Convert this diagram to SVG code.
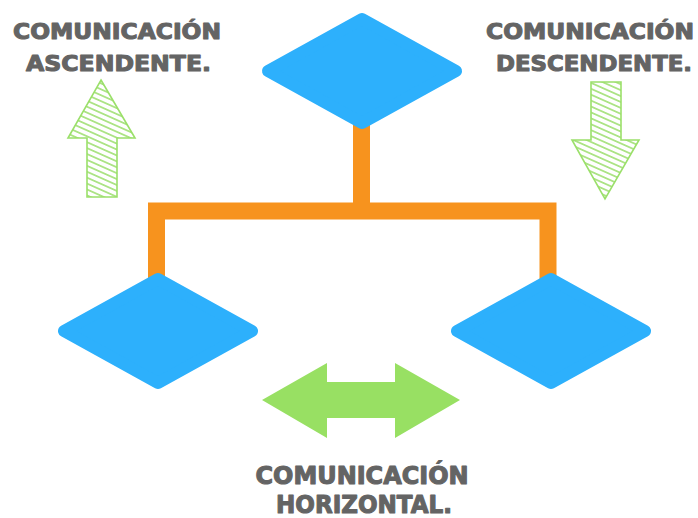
<svg xmlns="http://www.w3.org/2000/svg" width="698" height="518" viewBox="0 0 698 518">
<style>
.lbl{font-family:"DejaVu Sans","Liberation Sans",sans-serif;font-weight:bold;fill:#646464;stroke:#646464;stroke-width:1.1;stroke-linejoin:round;text-anchor:middle}
.node{fill:#2DB0FC;stroke:#2DB0FC;stroke-width:12;stroke-linejoin:round}
.conn{fill:none;stroke:#F7931E;stroke-width:17;stroke-linejoin:miter;stroke-linecap:butt}
.hatch{fill:url(#hatch);stroke:#9BE06A;stroke-width:1.6}
</style>
<defs>
<pattern id="hatch" patternUnits="userSpaceOnUse" width="10" height="5.4" patternTransform="rotate(24)">
<rect width="10" height="5.4" fill="#ffffff"/>
<line x1="0" y1="2.7" x2="10" y2="2.7" stroke="#94DC62" stroke-width="1.4"/>
</pattern>
</defs>
<rect width="698" height="518" fill="#ffffff"/>
<g id="connectors">
<path class="conn" d="M361.5,120 V211"/>
<path class="conn" d="M156.5,290 V211 H548 V290"/>
</g>
<g id="node-top">
<polygon class="node" points="268,71 362,19 456,71 362,123"/>
</g>
<g id="node-left">
<polygon class="node" points="64,331 158,279 252,331 158,383"/>
</g>
<g id="node-right">
<polygon class="node" points="457,331 551,279 645,331 551,383"/>
</g>
<g id="arrow-up">
<polygon class="hatch" points="101,80 135,138 117,138 117,197 87,197 87,138 68,138"/>
</g>
<g id="arrow-down">
<polygon class="hatch" points="591,82 621,82 621,140 639,140 605,199 572,140 591,140"/>
</g>
<g id="arrow-horizontal">
<polygon fill="#98E063" points="262,400 327,363 327,382 395,382 395,363 460,400 395,438 395,418 327,418 327,438"/>
</g>
<g id="label-ascendente">
<text class="lbl" x="117" y="39" font-size="22" textLength="208" lengthAdjust="spacingAndGlyphs">COMUNICACIÓN</text>
<text class="lbl" x="118.5" y="71" font-size="22" textLength="185" lengthAdjust="spacingAndGlyphs">ASCENDENTE.</text>
</g>
<g id="label-descendente">
<text class="lbl" x="590" y="39" font-size="22" textLength="208" lengthAdjust="spacingAndGlyphs">COMUNICACIÓN</text>
<text class="lbl" x="594" y="71" font-size="22" textLength="196" lengthAdjust="spacingAndGlyphs">DESCENDENTE.</text>
</g>
<g id="label-horizontal">
<text class="lbl" x="362" y="484" font-size="24" textLength="213" lengthAdjust="spacingAndGlyphs">COMUNICACIÓN</text>
<text class="lbl" x="364" y="513" font-size="24" textLength="176" lengthAdjust="spacingAndGlyphs">HORIZONTAL.</text>
</g>
</svg>
